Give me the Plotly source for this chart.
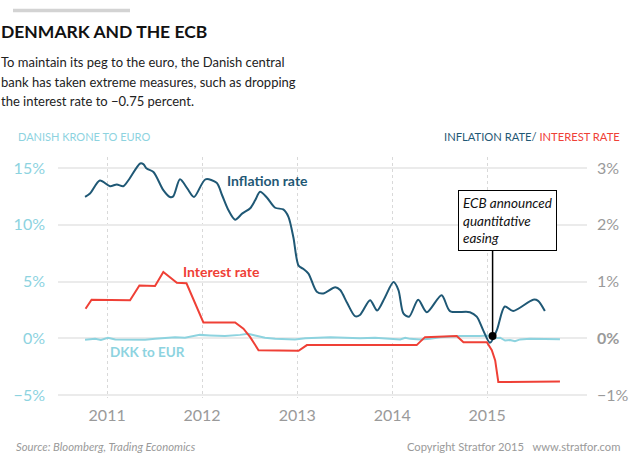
import plotly.graph_objects as go

# ---------------- data ----------------
infl_dates = ["2010-10-08","2010-10-27","2010-12-04","2011-01-12","2011-02-07","2011-03-04","2011-03-23",
              "2011-05-08","2011-05-20","2011-06-02","2011-06-28","2011-08-05","2011-08-30","2011-09-12",
              "2011-10-08","2011-11-05","2011-12-01","2012-01-14","2012-02-26","2012-03-18","2012-04-11",
              "2012-05-07","2012-06-04","2012-07-04","2012-07-23","2012-08-11","2012-09-06","2012-10-08",
              "2012-11-08","2012-11-28","2012-12-17","2013-01-06","2013-01-25","2013-02-13","2013-03-17",
              "2013-04-11","2013-05-27","2013-06-15","2013-07-12","2013-08-11","2013-08-30","2013-10-08",
              "2013-11-04","2013-12-04","2014-01-06","2014-01-25","2014-02-13","2014-03-07","2014-04-11",
              "2014-05-14","2014-07-10","2014-08-11","2014-10-27","2014-11-22","2014-12-17","2015-01-12",
              "2015-02-07","2015-03-10","2015-04-11","2015-06-27","2015-07-16","2015-08-11"]
infl_vals = [2.49,2.55,2.78,2.68,2.71,2.68,2.78,
             3.08,3.07,2.99,2.93,2.61,2.49,2.50,
             2.80,2.64,2.49,2.80,2.74,2.52,2.26,
             2.09,2.20,2.29,2.43,2.58,2.48,2.30,
             2.27,2.14,1.78,1.28,1.22,1.14,0.82,
             0.79,0.90,0.85,0.62,0.39,0.41,0.67,
             0.49,0.72,0.99,0.85,0.44,0.38,0.68,
             0.46,0.76,0.48,0.46,0.38,0.14,-0.08,
             0.14,0.56,0.48,0.68,0.66,0.48]

rate_dates = ["2010-10-10","2010-11-02","2011-03-30","2011-05-05","2011-07-04","2011-08-05","2011-09-26",
              "2011-11-02","2012-01-06","2012-05-07","2012-06-08","2012-07-04","2012-08-05","2013-01-06",
              "2013-02-07","2014-04-05","2014-05-07","2014-09-06","2014-10-02","2014-12-31","2015-01-19",
              "2015-02-01","2015-02-13","2015-10-08"]
rate_vals = [0.52,0.68,0.67,0.93,0.92,1.17,0.98,
             0.97,0.28,0.28,0.17,0.02,-0.21,-0.22,
             -0.12,-0.12,0.02,0.04,-0.07,-0.07,-0.21,
             -0.39,-0.77,-0.76]

dkk_dates = ["2010-10-08","2010-11-16","2010-12-08","2011-01-04","2011-02-01","2011-03-30","2011-05-27",
             "2011-07-04","2011-08-11","2011-09-19","2011-10-27","2011-12-04","2011-12-23","2012-02-01",
             "2012-03-29","2012-05-26","2012-06-26","2012-07-23","2012-08-30","2012-10-08","2012-11-16",
             "2012-12-23","2013-02-01","2013-03-11","2013-05-08","2013-07-04","2013-08-30","2013-10-27",
             "2013-12-23","2014-02-01","2014-02-20","2014-03-11","2014-04-18","2014-05-27","2014-07-04",
             "2014-09-19","2014-12-04","2015-01-04","2015-02-01","2015-02-20","2015-03-11","2015-03-30",
             "2015-04-18","2015-05-08","2015-06-15","2015-08-11","2015-10-08"]
dkk_vals = [-0.13,-0.05,-0.15,0.05,-0.10,-0.12,-0.12,
            -0.05,0.00,0.10,0.05,0.25,0.30,0.25,
            0.20,0.30,0.40,0.25,0.05,-0.05,-0.10,
            -0.10,0.00,0.05,0.10,0.05,0.00,0.05,
            -0.05,-0.10,0.05,-0.05,-0.10,-0.05,0.10,
            0.20,0.20,0.25,0.00,0.05,-0.20,-0.15,
            -0.25,-0.10,-0.05,-0.08,-0.08]

ecb_date = "2015-01-22"
ecb_val = 0.04

left_ticks = [-5, 0, 5, 10, 15]
left_labels = ["\u22125%", "0%", "5%", "10%", "15%"]
right_ticks = [-1, 0, 1, 2, 3]
right_labels = ["\u22121%", "<b>0%</b>", "1%", "2%", "3%"]
year_ticks = ["2011-01-01", "2012-01-01", "2013-01-01", "2014-01-01", "2015-01-01"]
year_labels = ["2011", "2012", "2013", "2014", "2015"]

subtitle_lines = ["To maintain its peg to the euro, the Danish central",
                  "bank has taken extreme measures, such as dropping",
                  "the interest rate to \u22120.75 percent."]

FONT = "Lato, sans-serif"
C_INFL = "#1f5875"
C_RATE = "#ef4036"
C_DKK = "#8dd3df"
C_GRAY = "#9a9a9a"

fig = go.Figure()
fig.add_trace(go.Scatter(x=dkk_dates, y=dkk_vals, mode="lines", yaxis="y",
                         line=dict(color=C_DKK, width=2), hoverinfo="skip"))
fig.add_trace(go.Scatter(x=infl_dates, y=infl_vals, mode="lines", yaxis="y2",
                         line=dict(color=C_INFL, width=2, shape="spline", smoothing=0.8), hoverinfo="skip"))
fig.add_trace(go.Scatter(x=rate_dates, y=rate_vals, mode="lines", yaxis="y2",
                         line=dict(color=C_RATE, width=2), hoverinfo="skip"))
fig.add_trace(go.Scatter(x=[ecb_date], y=[ecb_val], mode="markers", yaxis="y2",
                         marker=dict(color="black", size=8), hoverinfo="skip"))

fig.add_shape(type="line", xref="x", yref="y2", x0=ecb_date, x1=ecb_date, y0=ecb_val, y1=1.62,
              line=dict(color="black", width=1.5))

fig.update_layout(
    width=640, height=455,
    margin=dict(l=58, r=53, t=157, b=57),
    paper_bgcolor="white", plot_bgcolor="white",
    showlegend=False,
    font=dict(family=FONT),
    xaxis=dict(type="date", range=["2010-06-26", "2016-01-20"],
               tickvals=year_ticks, ticktext=year_labels,
               tickfont=dict(size=16, color=C_GRAY, family=FONT),
               showgrid=True, gridcolor="#d9d9d9", griddash="dot", gridwidth=1,
               zeroline=False, showline=False, ticks="", ticklabelstandoff=6),
    yaxis=dict(range=[-5.26, 15.97], tickvals=left_ticks, ticktext=left_labels,
               tickfont=dict(size=16, color=C_DKK, family=FONT),
               showgrid=True, gridcolor="#ebebeb", gridwidth=1.5,
               zeroline=False, showline=False, ticks="", ticklabelstandoff=12),
    yaxis2=dict(range=[-1.052, 3.194], tickvals=right_ticks, ticktext=right_labels,
                overlaying="y", side="right",
                tickfont=dict(size=16, color=C_GRAY, family=FONT),
                showgrid=False, zeroline=False, showline=False, ticks="", ticklabelstandoff=9),
)

ann = []
ann.append(dict(xref="paper", yref="paper", x=-59/529, y=1 + (157-31)/241, xanchor="left", yanchor="middle",
                text="<b>DENMARK AND THE ECB</b>", showarrow=False,
                font=dict(size=17.5, color="#111111", family=FONT)))
for i, line in enumerate(subtitle_lines):
    ann.append(dict(xref="paper", yref="paper", x=-59/529, y=1 + (157-(62+19.5*i))/241,
                    xanchor="left", yanchor="middle", text=line, showarrow=False, align="left",
                    font=dict(size=13, color="#222222", family=FONT)))
ann.append(dict(xref="paper", yref="paper", x=-42/529, y=1 + (157-136)/241, xanchor="left", yanchor="middle",
                text="DANISH KRONE TO EURO", showarrow=False,
                font=dict(size=11, color=C_DKK, family=FONT)))
ann.append(dict(xref="paper", yref="paper", x=1 + 35/529, y=1 + (157-136)/241, xanchor="right", yanchor="middle",
                text=f"<span style='color:{C_INFL}'>INFLATION RATE/</span> <span style='color:{C_RATE}'>INTEREST RATE</span>",
                showarrow=False, font=dict(size=11.2, family=FONT)))
ann.append(dict(xref="x", yref="y2", x="2012-09-09", y=2.78, text="<b>Inflation rate</b>", showarrow=False,
                font=dict(size=14, color=C_INFL, family=FONT)))
ann.append(dict(xref="x", yref="y2", x="2012-03-14", y=1.17, text="<b>Interest rate</b>", showarrow=False,
                font=dict(size=14, color=C_RATE, family=FONT)))
ann.append(dict(xref="x", yref="y", x="2011-06-07", y=-1.22, text="<b>DKK to EUR</b>", showarrow=False,
                font=dict(size=13.5, color=C_DKK, family=FONT)))
ann.append(dict(xref="x", yref="y2", x="2014-09-11", y=2.61, xanchor="left", yanchor="top",
                text="<i>ECB announced<br>quantitative<br>easing</i>", showarrow=False, align="left",
                bordercolor="black", borderwidth=1, borderpad=4, bgcolor="white",
                font=dict(size=13.5, color="#111111", family=FONT)))
ann.append(dict(xref="paper", yref="paper", x=-44/529, y=-(446-398)/241, xanchor="left", yanchor="middle",
                text="<i>Source: Bloomberg, Trading Economics</i>", showarrow=False,
                font=dict(size=11.3, color=C_GRAY, family=FONT)))
ann.append(dict(xref="paper", yref="paper", x=1 + 35/529, y=-(446-398)/241, xanchor="right", yanchor="middle",
                text="Copyright Stratfor 2015   www.stratfor.com", showarrow=False,
                font=dict(size=11.2, color=C_GRAY, family=FONT)))
fig.update_layout(annotations=ann)

fig.add_shape(type="line", xref="paper", yref="paper", x0=-45/529, x1=72/529,
              y0=1 + (157-10.5)/241, y1=1 + (157-10.5)/241,
              line=dict(color="#d3d3d3", width=3.5))

fig.write_html("out.html")
